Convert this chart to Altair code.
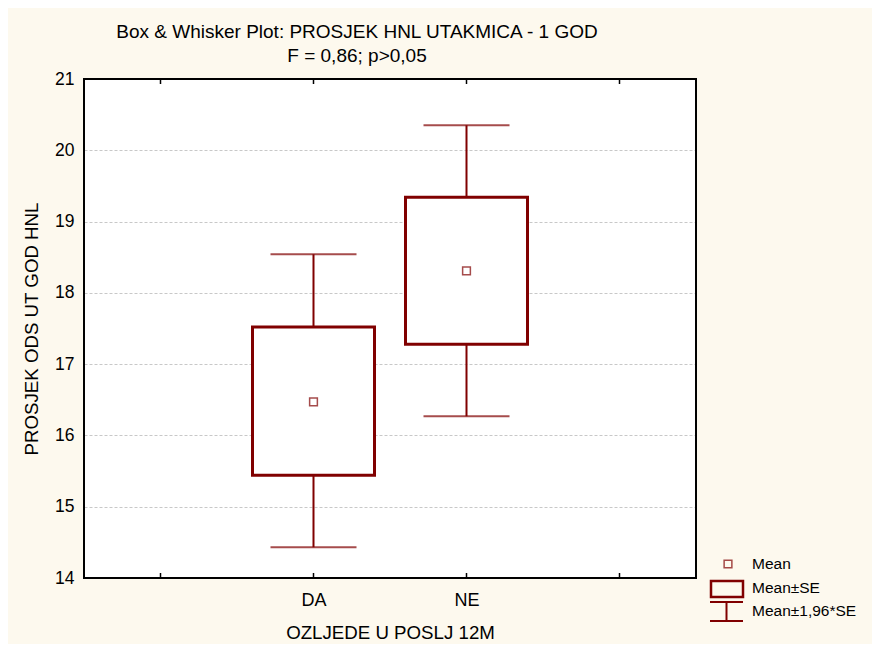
import altair as alt
import pandas as pd

# ---- data ----
categories = ["DA", "NE"]
means = [16.47, 18.31]
se_low = [15.44, 17.28]
se_high = [17.52, 19.34]
ci_low = [14.43, 16.27]
ci_high = [18.54, 20.35]
slots = [" ", "DA", "NE", "  "]          # x positions (empty outer slots)
y_ticks = [14, 15, 16, 17, 18, 19, 20, 21]

legend_labels = ["Mean", "Mean±SE", "Mean±1,96*SE"]

W, H = 612, 499
RED = "#800000"
FONT = "Liberation Sans"

df = pd.DataFrame({"cat": categories, "mean": means, "se_low": se_low,
                   "se_high": se_high, "ci_low": ci_low, "ci_high": ci_high})
slot_df = pd.DataFrame({"cat": slots})
one = pd.DataFrame({"k": [0]})

xscale = alt.Scale(type="point", domain=slots, padding=0.5)
yscale = alt.Scale(domain=[14, 21], nice=False, zero=False)

x_enc = alt.X("cat:N", scale=xscale, sort=slots, axis=alt.Axis(
    title="OZLJEDE U POSLJ 12M",
    labelExpr="datum.value == 'DA' || datum.value == 'NE' ? datum.value : ''",
    ticks=False, domain=False, grid=False, labelAngle=0, labelPadding=13,
    labelFontSize=18, titlePadding=14))

base = alt.Chart(df)

whisker = base.mark_rule(color=RED, strokeWidth=2).encode(
    x=x_enc,
    y=alt.Y("ci_low:Q", scale=yscale, axis=alt.Axis(
        title="PROSJEK ODS UT GOD HNL", values=y_ticks, format="d", ticks=False, domain=False,
        grid=True, gridDash=[3, 2], gridColor="#c8c8c8", gridWidth=1,
        labelPadding=10, labelFontSize=17.5, titlePadding=13)),
    y2="ci_high:Q")

cap_lo = base.mark_tick(color=RED, size=86, thickness=2, orient="horizontal").encode(
    x=alt.X("cat:N", scale=xscale), y=alt.Y("ci_low:Q", scale=yscale))
cap_hi = base.mark_tick(color=RED, size=86, thickness=2, orient="horizontal").encode(
    x=alt.X("cat:N", scale=xscale), y=alt.Y("ci_high:Q", scale=yscale))

box = base.mark_bar(size=122, fill="white", stroke=RED, strokeWidth=3).encode(
    x=alt.X("cat:N", scale=xscale), y=alt.Y("se_low:Q", scale=yscale), y2="se_high:Q")

mean_pt = base.mark_point(shape="square", size=60, filled=False, color=RED, strokeWidth=1.5).encode(
    x=alt.X("cat:N", scale=xscale), y=alt.Y("mean:Q", scale=yscale))

xt_top = alt.Chart(slot_df).mark_rule(color="black", strokeWidth=1.5).encode(
    x=alt.X("cat:N", scale=xscale), y=alt.value(0), y2=alt.value(5))
xt_bot = alt.Chart(slot_df).mark_rule(color="black", strokeWidth=1.5).encode(
    x=alt.X("cat:N", scale=xscale), y=alt.value(H - 5), y2=alt.value(H))

frame = alt.Chart(one).mark_rect(fillOpacity=0, stroke="black", strokeWidth=2).encode(
    x=alt.value(0), x2=alt.value(W), y=alt.value(0), y2=alt.value(H))

# ---- legend (drawn manually, outside plot) ----
lg_mean = alt.Chart(one).mark_point(shape="square", size=60, filled=False, color=RED,
                                    strokeWidth=1.5, clip=False).encode(
    x=alt.value(644), y=alt.value(485))
lg_box = alt.Chart(one).mark_rect(fill="white", fillOpacity=0, stroke=RED, strokeWidth=2.5,
                                  clip=False).encode(
    x=alt.value(627), x2=alt.value(659), y=alt.value(502), y2=alt.value(518))
lg_w1 = alt.Chart(one).mark_rule(color=RED, strokeWidth=2).encode(
    x=alt.value(626), x2=alt.value(659), y=alt.value(523))
lg_w2 = alt.Chart(one).mark_rule(color=RED, strokeWidth=2).encode(
    x=alt.value(626), x2=alt.value(659), y=alt.value(542))
lg_w3 = alt.Chart(one).mark_rule(color=RED, strokeWidth=2).encode(
    x=alt.value(642.5), y=alt.value(523), y2=alt.value(542))
lg_text = alt.Chart(pd.DataFrame({"t": legend_labels, "yy": [485, 509, 532]})).mark_text(
    align="left", baseline="middle", font=FONT, fontSize=15.5, color="black").encode(
    x=alt.value(668), y=alt.Y("yy:Q", scale=None), text="t:N")

chart = alt.layer(whisker, cap_lo, cap_hi, box, mean_pt, xt_top, xt_bot, frame,
                  lg_mean, lg_box, lg_w1, lg_w2, lg_w3, lg_text).properties(
    width=W, height=H,
    title=alt.TitleParams(text="Box & Whisker Plot: PROSJEK HNL UTAKMICA - 1 GOD",
                          subtitle="F = 0,86; p>0,05", anchor="middle", dx=-33,
                          font=FONT, fontSize=19, fontWeight="normal", color="black",
                          subtitleFont=FONT, subtitleFontSize=19, subtitleColor="black",
                          subtitlePadding=5, offset=4),
    autosize=alt.AutoSizeParams(type="none"),
    padding={"left": 76, "top": 71, "right": 176, "bottom": 66},
).configure(background="#FDF9EE").configure_view(fill="white", stroke=None).configure_axis(
    labelFont=FONT, labelColor="black",
    titleFont=FONT, titleFontSize=18.7, titleFontWeight="normal", titleColor="black")

chart.save("out.html", embed_options={"renderer": "svg", "actions": False})
